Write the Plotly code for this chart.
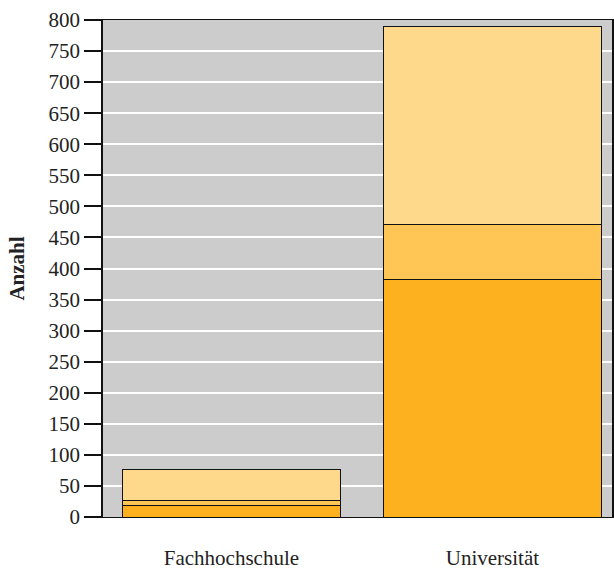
import plotly.graph_objects as go

categories = ["Fachhochschule", "Universität"]
segment_1 = [19, 383]
segment_2 = [7, 88]
segment_3 = [50, 319]
colors = ["#FEB11E", "#FFC555", "#FFD98B"]
y_ticks = list(range(0, 801, 50))

fig = go.Figure()
for vals, col, name in zip([segment_1, segment_2, segment_3], colors, ["Teil 1", "Teil 2", "Teil 3"]):
    fig.add_trace(go.Bar(
        x=categories, y=vals, name=name, width=0.832,
        marker=dict(color=col, line=dict(color="#111111", width=1)),
        showlegend=False,
    ))

font = dict(family="Liberation Serif, Times New Roman, serif", size=21, color="#222222")
fig.update_layout(
    barmode="stack",
    width=614, height=570,
    margin=dict(l=103, r=0, t=20, b=52),
    plot_bgcolor="#cccccc",
    paper_bgcolor="white",
    font=font,
)
fig.update_xaxes(
    range=[-0.492, 1.458],
    showgrid=False, zeroline=False,
    showline=True, linecolor="#111111", linewidth=1, mirror=True,
    ticks="outside", ticklen=22, tickcolor="rgba(0,0,0,0)",
    tickfont=font,
)
fig.update_yaxes(
    range=[0, 800],
    tickvals=y_ticks,
    showgrid=True, gridcolor="white", gridwidth=2,
    zeroline=False,
    showline=True, linecolor="#111111", linewidth=1.5, mirror=True,
    ticks="outside", ticklen=17, tickcolor="#111111", tickwidth=1.5,
    tickfont=font,
    title=dict(text="<b>Anzahl</b>", font=font, standoff=18),
)
fig.write_html("out.html", config={"displayModeBar": False},
               post_script="document.body.style.margin='0';")
